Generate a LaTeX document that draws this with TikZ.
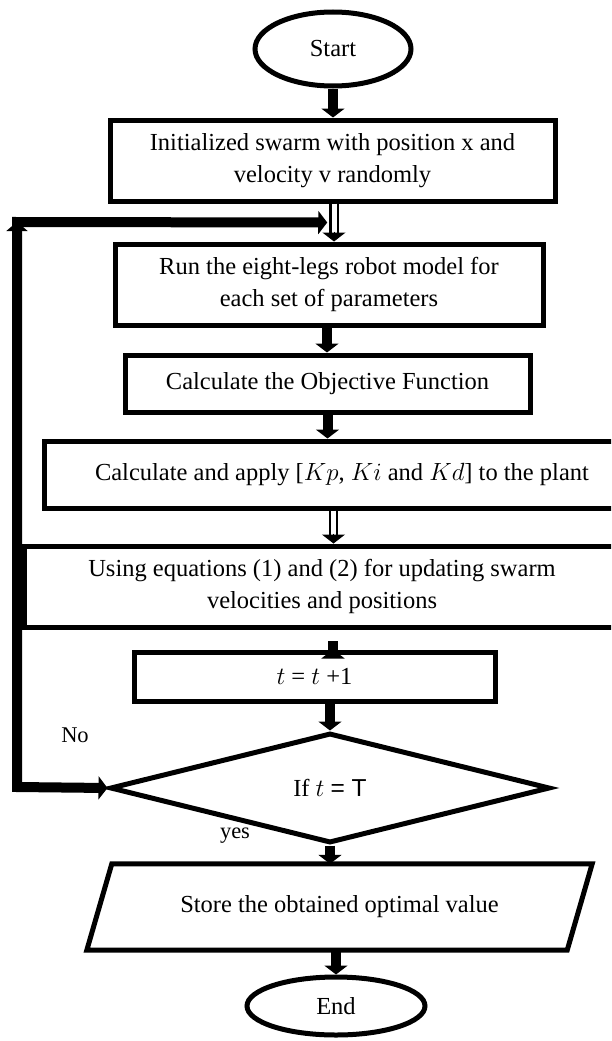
\documentclass[tikz,border=0pt]{standalone}
\usepackage{fontspec}
\setmainfont{Liberation Serif}
\newfontfamily\sansf{Liberation Sans}
\usetikzlibrary{arrows.meta,shapes.geometric,calc}
\begin{document}
\begin{tikzpicture}[x=1pt,y=-1pt,
  txt/.style={font=\fontsize{24.5}{32}\selectfont},
  stepbox/.style={draw,line width=5pt,rectangle,inner sep=0pt,align=center,txt},
  term/.style={draw,line width=5pt,ellipse,inner sep=0pt,txt},
  thickarrow/.style={line width=10pt,-{Triangle[length=9pt,width=23pt]}},
  hollowshaft/.style={line width=2.2pt,double=white,double distance=5pt,shorten >=8pt},
  hollowtip/.style={line width=1pt,-{Triangle[length=9pt,width=23pt]}},
  loopline/.style={line width=10pt},
  lbl/.style={font=\fontsize{22.5}{26}\selectfont}]
\useasboundingbox (0,0) rectangle (611,1041);
\clip (0,0) rectangle (611,1041);
\fill[white] (0,0) rectangle (611,1041);

\node[term,minimum width=156pt,minimum height=74pt] (start) at (333,49) {Start};
\node[stepbox,minimum width=445pt,minimum height=81pt] (b1) at (332.5,160.5)
  {Initialized swarm with position x and\\velocity v randomly};
\node[stepbox,minimum width=428pt,minimum height=81pt] (b2) at (329,284.5)
  {Run the eight-legs robot model for\\each set of parameters};
\node[stepbox,minimum width=405pt,minimum height=57pt] (b3) at (327.5,383.5)
  {Calculate the Objective Function};
\node[stepbox,minimum width=596pt,minimum height=67pt] (b4) at (342,474.5)
  {Calculate and apply [$Kp$, $Ki$ and $Kd$] to the plant};
\node[stepbox,minimum width=596pt,minimum height=81pt] (b5) at (322,586.5)
  {Using equations (1) and (2) for updating swarm\\velocities and positions};
\node[stepbox,minimum width=361pt,minimum height=49pt] (b6) at (314.5,676.5)
  {$t$ = $t$ +1};
\node[draw,line width=5pt,diamond,inner sep=0pt,minimum width=440pt,minimum height=110pt,txt] (d) at (330,788)
  {If $t$ {\sansf = T}};
\node[txt,inner sep=0pt,minimum width=480pt,minimum height=86pt] (store) at (339.5,907)
  {Store the obtained optimal value};
\draw[line width=5pt,line join=miter]
  ($(store.north west)+(12.5,0)$) -- ($(store.north east)+(12.5,0)$) --
  ($(store.south east)+(-12.5,0)$) -- ($(store.south west)+(-12.5,0)$) -- cycle;
\node[term,minimum width=178pt,minimum height=58pt] (end) at (336,1006) {End};

\node[lbl] (no) at (75,735) {No};
\node[lbl] (yes) at (235,836) {yes};

% connectors
\coordinate (h1a) at ($(b1.south)+(1.5,0)$);
\coordinate (h1b) at ($(b1.south |- b2.north)+(1.5,0)$);
\draw[hollowshaft] (h1a) -- (h1b);
\draw[hollowtip] ($(h1b)+(0,-10)$) -- (h1b);
\draw[thickarrow] (start.south) -- (start.south |- b1.north);
\draw[thickarrow] ($(b2.south)+(-2,0)$) -- ($(b2.south |- b3.north)+(-2,0)$);
\draw[thickarrow] (b3.south) -- (b3.south |- b4.north);
\coordinate (h2a) at ($(b3.south |- b4.south)+(6,0)$);
\coordinate (h2b) at ($(b3.south |- b5.north)+(6,0)$);
\draw[hollowshaft] (h2a) -- (h2b);
\draw[hollowtip] ($(h2b)+(0,-10)$) -- (h2b);
\draw[thickarrow] ($(b6.north)+(18.5,0)$ |- b5.south) -- ($(b6.north)+(18.5,0)$);
\draw[thickarrow] (d.north |- b6.south) -- (d.north);
\draw[thickarrow] (d.south) -- (d.south |- store.north);
\draw[thickarrow] (end.north |- store.south) -- (end.north);

\coordinate (lb) at (17,787);
\coordinate (lt) at (17,222);
\coordinate (join) at ($($(b1.south)!0.5!(b2.north)$)+(-3.5,0)$);
\draw[loopline,-{Triangle[length=9pt,width=21pt]}] (lb) -- (lt);
\draw[loopline,{Triangle[length=9pt,width=23pt]}-{Triangle[length=9pt,width=23pt]}]
  (d.west) -- (lb) -- (lt) -- (join);
\end{tikzpicture}
\end{document}
